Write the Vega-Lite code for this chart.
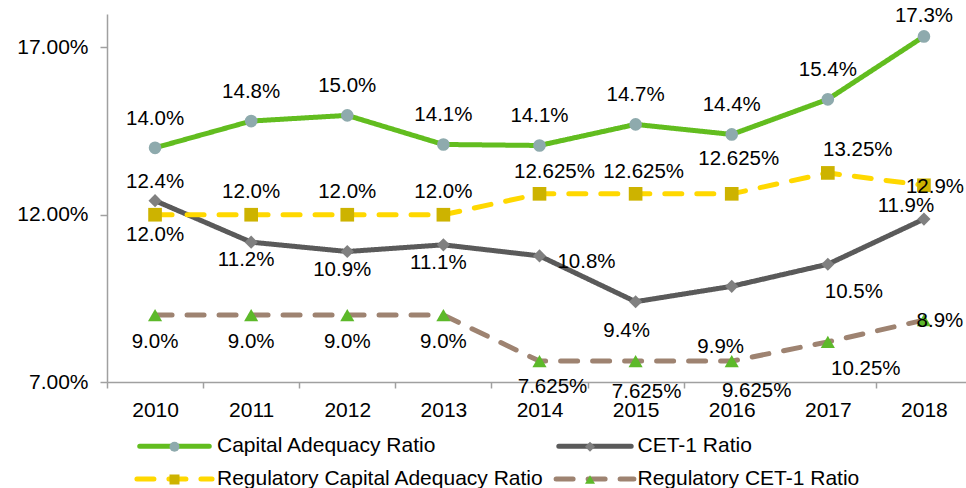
{
  "$schema": "https://vega.github.io/schema/vega-lite/v6.json",
  "width": 865,
  "height": 368,
  "autosize": {"type": "none"},
  "padding": {"left": 107, "top": 14, "right": -6, "bottom": 106},
  "background": "white",
  "config": {
    "view": {"stroke": null},
    "font": "Liberation Sans",
    "axis": {"grid": false, "title": null, "labelFont": "Liberation Sans", "labelFontSize": 21, "labelColor": "#000000", "domainColor": "#A0A0A0", "domainWidth": 1.5, "tickColor": "#A0A0A0", "tickWidth": 1.5}
  },
  "data": {
    "values": [
      {"year": "2010", "series": "Capital Adequacy Ratio", "value": 14.0, "label": "14.0%"},
      {"year": "2011", "series": "Capital Adequacy Ratio", "value": 14.8, "label": "14.8%"},
      {"year": "2012", "series": "Capital Adequacy Ratio", "value": 14.97, "label": "15.0%"},
      {"year": "2013", "series": "Capital Adequacy Ratio", "value": 14.1, "label": "14.1%"},
      {"year": "2014", "series": "Capital Adequacy Ratio", "value": 14.07, "label": "14.1%"},
      {"year": "2015", "series": "Capital Adequacy Ratio", "value": 14.7, "label": "14.7%"},
      {"year": "2016", "series": "Capital Adequacy Ratio", "value": 14.4, "label": "14.4%"},
      {"year": "2017", "series": "Capital Adequacy Ratio", "value": 15.45, "label": "15.4%"},
      {"year": "2018", "series": "Capital Adequacy Ratio", "value": 17.33, "label": "17.3%"},
      {"year": "2010", "series": "CET-1 Ratio", "value": 12.42, "label": "12.4%"},
      {"year": "2011", "series": "CET-1 Ratio", "value": 11.18, "label": "11.2%"},
      {"year": "2012", "series": "CET-1 Ratio", "value": 10.9, "label": "10.9%"},
      {"year": "2013", "series": "CET-1 Ratio", "value": 11.1, "label": "11.1%"},
      {"year": "2014", "series": "CET-1 Ratio", "value": 10.77, "label": "10.8%"},
      {"year": "2015", "series": "CET-1 Ratio", "value": 9.4, "label": "9.4%"},
      {"year": "2016", "series": "CET-1 Ratio", "value": 9.86, "label": "9.9%"},
      {"year": "2017", "series": "CET-1 Ratio", "value": 10.52, "label": "10.5%"},
      {"year": "2018", "series": "CET-1 Ratio", "value": 11.87, "label": "11.9%"},
      {"year": "2010", "series": "Regulatory Capital Adequacy Ratio", "value": 12.0, "label": "12.0%"},
      {"year": "2011", "series": "Regulatory Capital Adequacy Ratio", "value": 12.0, "label": "12.0%"},
      {"year": "2012", "series": "Regulatory Capital Adequacy Ratio", "value": 12.0, "label": "12.0%"},
      {"year": "2013", "series": "Regulatory Capital Adequacy Ratio", "value": 12.0, "label": "12.0%"},
      {"year": "2014", "series": "Regulatory Capital Adequacy Ratio", "value": 12.625, "label": "12.625%"},
      {"year": "2015", "series": "Regulatory Capital Adequacy Ratio", "value": 12.625, "label": "12.625%"},
      {"year": "2016", "series": "Regulatory Capital Adequacy Ratio", "value": 12.625, "label": "12.625%"},
      {"year": "2017", "series": "Regulatory Capital Adequacy Ratio", "value": 13.25, "label": "13.25%"},
      {"year": "2018", "series": "Regulatory Capital Adequacy Ratio", "value": 12.88, "label": "12.9%"},
      {"year": "2010", "series": "Regulatory CET-1 Ratio", "value": 9.0, "label": "9.0%"},
      {"year": "2011", "series": "Regulatory CET-1 Ratio", "value": 9.0, "label": "9.0%"},
      {"year": "2012", "series": "Regulatory CET-1 Ratio", "value": 9.0, "label": "9.0%"},
      {"year": "2013", "series": "Regulatory CET-1 Ratio", "value": 9.0, "label": "9.0%"},
      {"year": "2014", "series": "Regulatory CET-1 Ratio", "value": 7.625, "label": "7.625%"},
      {"year": "2015", "series": "Regulatory CET-1 Ratio", "value": 7.625, "label": "7.625%"},
      {"year": "2016", "series": "Regulatory CET-1 Ratio", "value": 7.625, "label": "9.625%"},
      {"year": "2017", "series": "Regulatory CET-1 Ratio", "value": 8.2, "label": "10.25%"},
      {"year": "2018", "series": "Regulatory CET-1 Ratio", "value": 8.85, "label": "8.9%"}
    ]
  },
  "encoding": {
    "x": {"field": "year", "type": "ordinal", "scale": {"paddingInner": 0, "paddingOuter": 0}, "axis": {"labelAngle": 0, "tickBand": "extent", "tickSize": 6, "labelPadding": 11}},
    "y": {"field": "value", "type": "quantitative", "scale": {"domain": [7, 18], "nice": false, "zero": false}, "axis": {"values": [7, 12, 17], "labelExpr": "format(datum.value, '.2f') + '%'", "tickSize": 7, "labelPadding": 12}}
  },
  "layer": [
    {
      "data": {"values": [{"marker": "forecast"}]},
      "mark": {"type": "rule", "color": "#8C8C8C", "strokeWidth": 1.5, "strokeDash": [6, 4], "xOffset": 40},
      "encoding": {"x": {"datum": "2017"}, "y": {"datum": 18.42}, "y2": {"datum": 8.16}}
    },
    {
      "mark": {"type": "line", "strokeWidth": 5, "strokeCap": "round"},
      "encoding": {
        "stroke": {"field": "series", "type": "nominal",
          "scale": {"domain": ["Capital Adequacy Ratio", "CET-1 Ratio", "Regulatory Capital Adequacy Ratio", "Regulatory CET-1 Ratio"], "range": ["#62BD1F", "#5A5A5A", "#FFD800", "#9E8371"]},
          "legend": {"orient": "none", "legendX": 57, "legendY": 421.5, "direction": "horizontal", "columns": 2, "title": null,
            "symbolType": "M-5.5,0H5.5", "symbolSize": 144, "symbolStrokeWidth": 5, "labelOffset": 32, "labelLimit": 500, "labelFontSize": 21, "labelFont": "Liberation Sans", "labelColor": "#000000", "columnPadding": 1.5, "rowPadding": 11, "zindex": 1,
            "encode": {"symbols": {"update": {"strokeDash": {"signal": "indexof(datum.value, 'Regulatory') == 0 ? [20, 20] : [1, 0]"}, "strokeCap": {"value": "round"}}}}}
        },
        "strokeDash": {"field": "series", "type": "nominal",
          "scale": {"domain": ["Capital Adequacy Ratio", "CET-1 Ratio", "Regulatory Capital Adequacy Ratio", "Regulatory CET-1 Ratio"], "range": [[1, 0], [1, 0], [17, 15], [17, 15]]},
          "legend": null}
      }
    },
    {
      "mark": {"type": "point", "filled": true, "opacity": 1, "strokeWidth": 0},
      "encoding": {
        "fill": {"field": "series", "type": "nominal",
          "scale": {"domain": ["Capital Adequacy Ratio", "CET-1 Ratio", "Regulatory Capital Adequacy Ratio", "Regulatory CET-1 Ratio"], "range": ["#8EAAAD", "#808080", "#CDB300", "#5DB92A"]},
          "legend": {"orient": "bottom", "offset": -41.5, "padding": 57, "direction": "horizontal", "columns": 2, "title": null, "symbolSize": 100, "symbolStrokeWidth": 0, "labelOffset": 32, "labelLimit": 500, "labelFontSize": 21, "labelFont": "Liberation Sans", "labelColor": "transparent", "columnPadding": 35.5, "rowPadding": 11, "zindex": 2}},
        "shape": {"field": "series", "type": "nominal",
          "scale": {"domain": ["Capital Adequacy Ratio", "CET-1 Ratio", "Regulatory Capital Adequacy Ratio", "Regulatory CET-1 Ratio"], "range": ["circle", "diamond", "square", "triangle-up"]},
          "legend": {"orient": "bottom", "offset": -41.5, "padding": 57, "direction": "horizontal", "columns": 2, "title": null, "symbolSize": 100, "symbolStrokeWidth": 0, "labelOffset": 32, "labelLimit": 500, "labelFontSize": 21, "labelFont": "Liberation Sans", "labelColor": "transparent", "columnPadding": 35.5, "rowPadding": 11, "zindex": 2}},
        "size": {"field": "series", "type": "nominal",
          "scale": {"domain": ["Capital Adequacy Ratio", "CET-1 Ratio", "Regulatory Capital Adequacy Ratio", "Regulatory CET-1 Ratio"], "range": [160, 200, 324, 330]},
          "legend": null}
      }
    },
    {"transform": [{"filter": {"and": [{"field": "series", "equal": "Capital Adequacy Ratio"}, {"field": "year", "oneOf": ["2010","2011","2012","2013","2014","2015","2016","2017"]}]}}],
     "mark": {"type": "text", "fontSize": 20.5, "color": "#000000", "baseline": "middle", "align": "center", "dy": -29},
     "encoding": {"text": {"field": "label"}}},
    {"transform": [{"filter": {"and": [{"field": "series", "equal": "Capital Adequacy Ratio"}, {"field": "year", "oneOf": ["2018"]}]}}],
     "mark": {"type": "text", "fontSize": 20.5, "color": "#000000", "baseline": "middle", "align": "center", "dy": -20},
     "encoding": {"text": {"field": "label"}}},
    {"transform": [{"filter": {"and": [{"field": "series", "equal": "Regulatory Capital Adequacy Ratio"}, {"field": "year", "oneOf": ["2010"]}]}}],
     "mark": {"type": "text", "fontSize": 20.5, "color": "#000000", "baseline": "middle", "align": "center", "dy": 20},
     "encoding": {"text": {"field": "label"}}},
    {"transform": [{"filter": {"and": [{"field": "series", "equal": "Regulatory Capital Adequacy Ratio"}, {"field": "year", "oneOf": ["2011","2012","2013"]}]}}],
     "mark": {"type": "text", "fontSize": 20.5, "color": "#000000", "baseline": "middle", "align": "center", "dy": -23},
     "encoding": {"text": {"field": "label"}}},
    {"transform": [{"filter": {"and": [{"field": "series", "equal": "Regulatory Capital Adequacy Ratio"}, {"field": "year", "oneOf": ["2014"]}]}}],
     "mark": {"type": "text", "fontSize": 20.5, "color": "#000000", "baseline": "middle", "align": "center", "dx": 15, "dy": -22},
     "encoding": {"text": {"field": "label"}}},
    {"transform": [{"filter": {"and": [{"field": "series", "equal": "Regulatory Capital Adequacy Ratio"}, {"field": "year", "oneOf": ["2015"]}]}}],
     "mark": {"type": "text", "fontSize": 20.5, "color": "#000000", "baseline": "middle", "align": "center", "dx": 8, "dy": -22},
     "encoding": {"text": {"field": "label"}}},
    {"transform": [{"filter": {"and": [{"field": "series", "equal": "Regulatory Capital Adequacy Ratio"}, {"field": "year", "oneOf": ["2016"]}]}}],
     "mark": {"type": "text", "fontSize": 20.5, "color": "#000000", "baseline": "middle", "align": "center", "dx": 7, "dy": -35},
     "encoding": {"text": {"field": "label"}}},
    {"transform": [{"filter": {"and": [{"field": "series", "equal": "Regulatory Capital Adequacy Ratio"}, {"field": "year", "oneOf": ["2017"]}]}}],
     "mark": {"type": "text", "fontSize": 20.5, "color": "#000000", "baseline": "middle", "align": "center", "dx": 30, "dy": -23},
     "encoding": {"text": {"field": "label"}}},
    {"transform": [{"filter": {"and": [{"field": "series", "equal": "Regulatory Capital Adequacy Ratio"}, {"field": "year", "oneOf": ["2018"]}]}}],
     "mark": {"type": "text", "fontSize": 20.5, "color": "#000000", "baseline": "middle", "align": "center", "dx": 11, "dy": 2},
     "encoding": {"text": {"field": "label"}}},
    {"transform": [{"filter": {"and": [{"field": "series", "equal": "CET-1 Ratio"}, {"field": "year", "oneOf": ["2010"]}]}}],
     "mark": {"type": "text", "fontSize": 20.5, "color": "#000000", "baseline": "middle", "align": "center", "dy": -19},
     "encoding": {"text": {"field": "label"}}},
    {"transform": [{"filter": {"and": [{"field": "series", "equal": "CET-1 Ratio"}, {"field": "year", "oneOf": ["2011","2012","2013"]}]}}],
     "mark": {"type": "text", "fontSize": 20.5, "color": "#000000", "baseline": "middle", "align": "center", "dx": -5, "dy": 18},
     "encoding": {"text": {"field": "label"}}},
    {"transform": [{"filter": {"and": [{"field": "series", "equal": "CET-1 Ratio"}, {"field": "year", "oneOf": ["2014"]}]}}],
     "mark": {"type": "text", "fontSize": 20.5, "color": "#000000", "baseline": "middle", "align": "center", "dx": 47, "dy": 6},
     "encoding": {"text": {"field": "label"}}},
    {"transform": [{"filter": {"and": [{"field": "series", "equal": "CET-1 Ratio"}, {"field": "year", "oneOf": ["2015"]}]}}],
     "mark": {"type": "text", "fontSize": 20.5, "color": "#000000", "baseline": "middle", "align": "center", "dx": -9, "dy": 29},
     "encoding": {"text": {"field": "label"}}},
    {"transform": [{"filter": {"and": [{"field": "series", "equal": "CET-1 Ratio"}, {"field": "year", "oneOf": ["2016"]}]}}],
     "mark": {"type": "text", "fontSize": 20.5, "color": "#000000", "baseline": "middle", "align": "center", "dx": -11, "dy": 61},
     "encoding": {"text": {"field": "label"}}},
    {"transform": [{"filter": {"and": [{"field": "series", "equal": "CET-1 Ratio"}, {"field": "year", "oneOf": ["2017"]}]}}],
     "mark": {"type": "text", "fontSize": 20.5, "color": "#000000", "baseline": "middle", "align": "center", "dx": 26, "dy": 28},
     "encoding": {"text": {"field": "label"}}},
    {"transform": [{"filter": {"and": [{"field": "series", "equal": "CET-1 Ratio"}, {"field": "year", "oneOf": ["2018"]}]}}],
     "mark": {"type": "text", "fontSize": 20.5, "color": "#000000", "baseline": "middle", "align": "center", "dx": -18, "dy": -13},
     "encoding": {"text": {"field": "label"}}},
    {"transform": [{"filter": {"and": [{"field": "series", "equal": "Regulatory CET-1 Ratio"}, {"field": "year", "oneOf": ["2010","2011","2012","2013"]}]}}],
     "mark": {"type": "text", "fontSize": 20.5, "color": "#000000", "baseline": "middle", "align": "center", "dy": 27},
     "encoding": {"text": {"field": "label"}}},
    {"transform": [{"filter": {"and": [{"field": "series", "equal": "Regulatory CET-1 Ratio"}, {"field": "year", "oneOf": ["2014"]}]}}],
     "mark": {"type": "text", "fontSize": 20.5, "color": "#000000", "baseline": "middle", "align": "center", "dx": 13, "dy": 26},
     "encoding": {"text": {"field": "label"}}},
    {"transform": [{"filter": {"and": [{"field": "series", "equal": "Regulatory CET-1 Ratio"}, {"field": "year", "oneOf": ["2015"]}]}}],
     "mark": {"type": "text", "fontSize": 20.5, "color": "#000000", "baseline": "middle", "align": "center", "dx": 11, "dy": 31},
     "encoding": {"text": {"field": "label"}}},
    {"transform": [{"filter": {"and": [{"field": "series", "equal": "Regulatory CET-1 Ratio"}, {"field": "year", "oneOf": ["2016"]}]}}],
     "mark": {"type": "text", "fontSize": 20.5, "color": "#000000", "baseline": "middle", "align": "center", "dx": 25, "dy": 30},
     "encoding": {"text": {"field": "label"}}},
    {"transform": [{"filter": {"and": [{"field": "series", "equal": "Regulatory CET-1 Ratio"}, {"field": "year", "oneOf": ["2017"]}]}}],
     "mark": {"type": "text", "fontSize": 20.5, "color": "#000000", "baseline": "middle", "align": "center", "dx": 38, "dy": 27},
     "encoding": {"text": {"field": "label"}}},
    {"transform": [{"filter": {"and": [{"field": "series", "equal": "Regulatory CET-1 Ratio"}, {"field": "year", "oneOf": ["2018"]}]}}],
     "mark": {"type": "text", "fontSize": 20.5, "color": "#000000", "baseline": "middle", "align": "center", "dx": 16, "dy": 1},
     "encoding": {"text": {"field": "label"}}}
  ]
}
